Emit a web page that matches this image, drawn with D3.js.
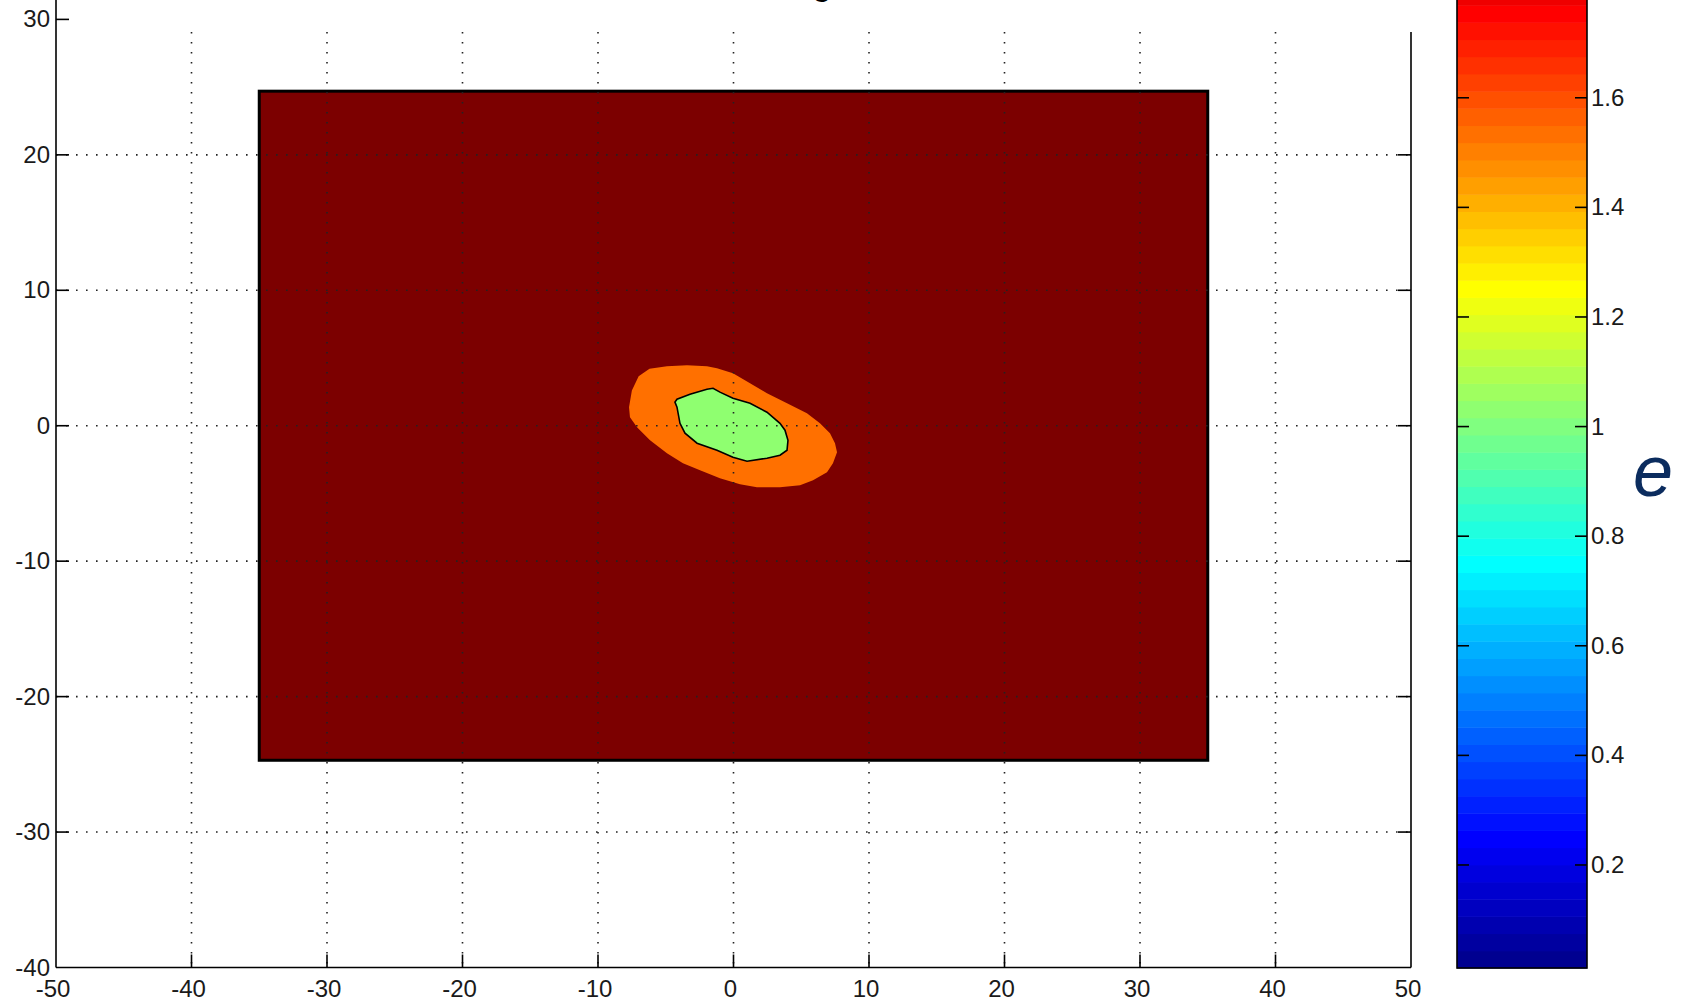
<!DOCTYPE html>
<html>
<head>
<meta charset="utf-8">
<script src="https://cdn.jsdelivr.net/npm/d3@7"></script>
<style>
  html, body { margin: 0; padding: 0; background: #fff; overflow: hidden; }
  text { font-family: "Liberation Sans", Arial, sans-serif; }
</style>
</head>
<body>
<div id="chart"></div>
<script>
// values
const xTicks = [-50, -40, -30, -20, -10, 0, 10, 20, 30, 40, 50];
const yTicks = [-40, -30, -20, -10, 0, 10, 20, 30];
const cbarTicks = [0.2, 0.4, 0.6, 0.8, 1, 1.2, 1.4, 1.6];
const cRange = [0.012, 2.02];

// plate extent and the level of each filled region
const plateX = [-35, 35];
const plateY = [-24.7, 24.7];
const levels = [2.02, 1.53, 1.02];

// outer (orange) contour, [x, y]
const outerContour = [
    [-7.71, 1.37], [-7.50, 2.60], [-7.00, 3.65], [-6.20, 4.20], [-4.91, 4.40],
    [-3.43, 4.47], [-1.96, 4.40], [-1.22, 4.25], [-0.04, 3.88], [1.22, 3.14],
    [2.47, 2.40], [3.95, 1.66], [5.42, 0.92], [6.38, 0.18], [7.12, -0.55],
    [7.49, -1.29], [7.64, -1.96], [7.34, -2.77], [6.90, -3.44], [5.87, -4.03],
    [4.91, -4.40], [3.43, -4.55], [1.73, -4.55], [0.48, -4.32], [-1.00, -3.88],
    [-2.47, -3.29], [-3.73, -2.77], [-4.91, -2.03], [-6.16, -1.07], [-7.12, -0.11],
    [-7.64, 0.63]
];

// inner (green) contour, [x, y]
const innerContour = [
    [-4.32, 1.74], [-4.17, 1.37], [-3.95, 0.18], [-3.58, -0.55], [-2.69, -1.29],
    [-1.22, -1.81], [-0.04, -2.33], [1.00, -2.62], [2.47, -2.40], [3.43, -2.18],
    [3.95, -1.81], [4.02, -1.07], [3.80, -0.33], [3.43, 0.18], [2.47, 1.00],
    [1.22, 1.66], [-0.04, 2.03], [-1.00, 2.48], [-1.51, 2.77], [-1.96, 2.70],
    [-3.21, 2.33], [-4.17, 1.96]
];

const width = 1689, height = 1003;

const svg = d3.select("#chart")
    .append("svg")
    .attr("width", width)
    .attr("height", height);

const x = d3.scaleLinear().domain([-50, 50]).range([56, 1411]);
const y = d3.scaleLinear().domain([-40, 30]).range([967.5, 19.4]);

// jet colormap, 64 steps
const jetIndex = d3.scaleLinear()
    .domain([0, 7, 23, 39, 55, 63])
    .range(["#000090", "#0000ff", "#00ffff", "#ffff00", "#ff0000", "#7c0000"]);

function colour(v) {
    let i = Math.floor((v - cRange[0]) / (cRange[1] - cRange[0]) * 64);
    i = Math.max(0, Math.min(63, i));
    return jetIndex(i);
}

// filled plate
svg.append("rect")
    .attr("x", x(plateX[0]))
    .attr("y", y(plateY[1]))
    .attr("width", x(plateX[1]) - x(plateX[0]))
    .attr("height", y(plateY[0]) - y(plateY[1]))
    .attr("fill", colour(levels[0]))
    .attr("stroke", "#000")
    .attr("stroke-width", 3);

const line = d3.line()
    .x(d => x(d[0]))
    .y(d => y(d[1]))
    .curve(d3.curveLinearClosed);

svg.append("path")
    .attr("d", line(outerContour))
    .attr("fill", colour(levels[1]));

svg.append("path")
    .attr("d", line(innerContour))
    .attr("fill", colour(levels[2]))
    .attr("stroke", "#000")
    .attr("stroke-width", 1.6);

// dotted grid
const grid = svg.append("g")
    .attr("stroke", "#222")
    .attr("stroke-width", 1.6)
    .attr("stroke-dasharray", "1.6,8.4");

grid.selectAll(".vg")
    .data(xTicks.slice(1, -1))
    .enter()
    .append("line")
    .attr("x1", d => x(d)).attr("x2", d => x(d))
    .attr("y1", 32).attr("y2", y(-40));

grid.selectAll(".hg")
    .data(yTicks.slice(1, -1))
    .enter()
    .append("line")
    .attr("y1", d => y(d)).attr("y2", d => y(d))
    .attr("x1", x(-50)).attr("x2", x(50));

// axes lines
const axes = svg.append("g").attr("stroke", "#000").attr("stroke-width", 1.6);
axes.append("line").attr("x1", x(-50)).attr("x2", x(-50)).attr("y1", 0).attr("y2", y(-40));
axes.append("line").attr("x1", x(50)).attr("x2", x(50)).attr("y1", 32).attr("y2", y(-40));
axes.append("line").attr("x1", x(-50)).attr("x2", x(50)).attr("y1", y(-40)).attr("y2", y(-40));

const tickLen = 13;
axes.selectAll(".xt")
    .data(xTicks.slice(1, -1))
    .enter()
    .append("line")
    .attr("x1", d => x(d)).attr("x2", d => x(d))
    .attr("y1", y(-40)).attr("y2", y(-40) - tickLen);

axes.selectAll(".ylt")
    .data(yTicks.slice(1))
    .enter()
    .append("line")
    .attr("x1", x(-50)).attr("x2", x(-50) + tickLen)
    .attr("y1", d => y(d)).attr("y2", d => y(d));

axes.selectAll(".yrt")
    .data(yTicks.slice(1, -1))
    .enter()
    .append("line")
    .attr("x1", x(50)).attr("x2", x(50) - tickLen)
    .attr("y1", d => y(d)).attr("y2", d => y(d));

// tick labels
svg.selectAll(".xl")
    .data(xTicks)
    .enter()
    .append("text")
    .attr("x", d => x(d) - 3)
    .attr("y", 997)
    .attr("text-anchor", "middle")
    .attr("font-size", "24px")
    .attr("fill", "#1a1a1a")
    .text(d => d);

svg.selectAll(".yl")
    .data(yTicks)
    .enter()
    .append("text")
    .attr("x", 50)
    .attr("y", d => y(d) + 8)
    .attr("text-anchor", "end")
    .attr("font-size", "24px")
    .attr("fill", "#1a1a1a")
    .text(d => d);

// title fragment cut by the top edge, as in the picture
svg.append("text")
    .attr("x", 822)
    .attr("y", -5)
    .attr("text-anchor", "middle")
    .attr("font-size", "34px")
    .attr("fill", "#000")
    .text("g");

// colorbar
const cb = d3.scaleLinear().domain(cRange).range([968, 968 - (cRange[1] - cRange[0]) * 548]);
const cbX0 = 1457, cbX1 = 1587;
const step = (cRange[1] - cRange[0]) / 64;
const bands = d3.range(64).map(i => cRange[0] + i * step);

svg.append("g")
    .selectAll("rect")
    .data(bands)
    .enter()
    .append("rect")
    .attr("x", cbX0)
    .attr("width", cbX1 - cbX0)
    .attr("y", d => cb(d + step))
    .attr("height", d => cb(d) - cb(d + step) + 0.5)
    .attr("fill", d => colour(d + step / 2));

svg.append("rect")
    .attr("x", cbX0)
    .attr("y", cb(cRange[1]))
    .attr("width", cbX1 - cbX0)
    .attr("height", cb(cRange[0]) - cb(cRange[1]))
    .attr("fill", "none")
    .attr("stroke", "#000")
    .attr("stroke-width", 1.6);

const cbt = svg.append("g").attr("stroke", "#000").attr("stroke-width", 1.6);
cbarTicks.forEach(t => {
    cbt.append("line").attr("x1", cbX0).attr("x2", cbX0 + 12).attr("y1", cb(t)).attr("y2", cb(t));
    cbt.append("line").attr("x1", cbX1).attr("x2", cbX1 - 12).attr("y1", cb(t)).attr("y2", cb(t));
});

svg.selectAll(".cl")
    .data(cbarTicks)
    .enter()
    .append("text")
    .attr("x", 1591)
    .attr("y", d => cb(d) + 8)
    .attr("font-size", "24px")
    .attr("fill", "#1a1a1a")
    .text(d => d);

// colorbar label
svg.append("text")
    .attr("x", 1653)
    .attr("y", 496)
    .attr("text-anchor", "middle")
    .attr("font-family", "'Open Sans', sans-serif")
    .attr("font-style", "italic")
    .attr("font-size", "72px")
    .attr("fill", "#0b2c5e")
    .text("e");
</script>
</body>
</html>
